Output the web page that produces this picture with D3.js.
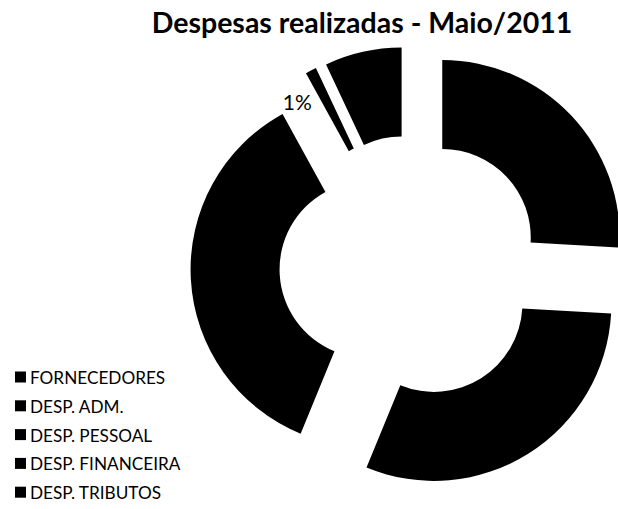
<!DOCTYPE html>
<html>
<head>
<meta charset="utf-8">
<script src="https://cdn.jsdelivr.net/npm/d3@7"></script>
<style>
  html, body { margin: 0; padding: 0; background: #fff; }
  svg { display: block; }
  text { font-family: Lato, "Open Sans", sans-serif; fill: #000; }
</style>
</head>
<body>
<svg id="chart" width="618" height="509"></svg>
<script>
// Expense categories and their share of the month's total (%)
const categories = ["FORNECEDORES", "DESP. ADM.", "DESP. PESSOAL", "DESP. FINANCEIRA", "DESP. TRIBUTOS"];
const values = [25.9, 30.3, 35.8, 1.0, 7.0];
// Only the smallest slice carries a data label
const showLabel = [false, false, false, true, false];
const colors = ["#000000", "#000000", "#000000", "#000000", "#000000"];
const title = "Despesas realizadas - Maio/2011";

const width = 618, height = 509;
const cx = 411, cy = 267;
const outerR = 177.5, innerR = 88.5;
const explode = 43;

const svg = d3.select("#chart");

svg.append("text")
  .attr("x", 362)
  .attr("y", 33)
  .attr("text-anchor", "middle")
  .style("font-weight", "bold")
  .style("font-size", "28.5px")
  .text(title);

const data = categories.map((c, i) => ({ name: c, value: values[i], label: showLabel[i], color: colors[i] }));
const total = d3.sum(values);

const pie = d3.pie().sort(null).value(d => d.value);
const arcs = pie(data);

const arc = d3.arc().innerRadius(innerR).outerRadius(outerR);

const g = svg.append("g").attr("transform", `translate(${cx},${cy})`);

// Each slice is pushed outward along its bisector (exploded doughnut)
g.selectAll("path.slice")
  .data(arcs)
  .join("path")
  .attr("class", "slice")
  .attr("d", arc)
  .attr("fill", d => d.data.color)
  .attr("transform", d => {
    const mid = (d.startAngle + d.endAngle) / 2;
    return `translate(${explode * Math.sin(mid)},${-explode * Math.cos(mid)})`;
  });

// Data label placed just outside the ring, slightly ahead of its slice
const fmt = d3.format(".0%");
g.selectAll("text.lbl")
  .data(arcs.filter(d => d.data.label))
  .join("text")
  .attr("class", "lbl")
  .attr("text-anchor", "middle")
  .attr("dominant-baseline", "central")
  .style("font-size", "21px")
  .attr("transform", d => {
    const a = (d.startAngle + d.endAngle) / 2 - 0.13;
    const r = 201;
    return `translate(${r * Math.sin(a)},${-r * Math.cos(a)})`;
  })
  .text(d => fmt(d.data.value / total));

// Legend, bottom left
const legend = svg.append("g").attr("transform", "translate(15,377)");
const rowH = 28.8;
const items = legend.selectAll("g")
  .data(data)
  .join("g")
  .attr("transform", (d, i) => `translate(0,${i * rowH})`);
items.append("rect")
  .attr("x", 0).attr("y", -5.5)
  .attr("width", 11).attr("height", 11)
  .attr("fill", d => d.color);
items.append("text")
  .attr("x", 15)
  .attr("y", 0.5)
  .attr("dominant-baseline", "central")
  .style("font-size", "17.2px")
  .text(d => d.name);
</script>
</body>
</html>
